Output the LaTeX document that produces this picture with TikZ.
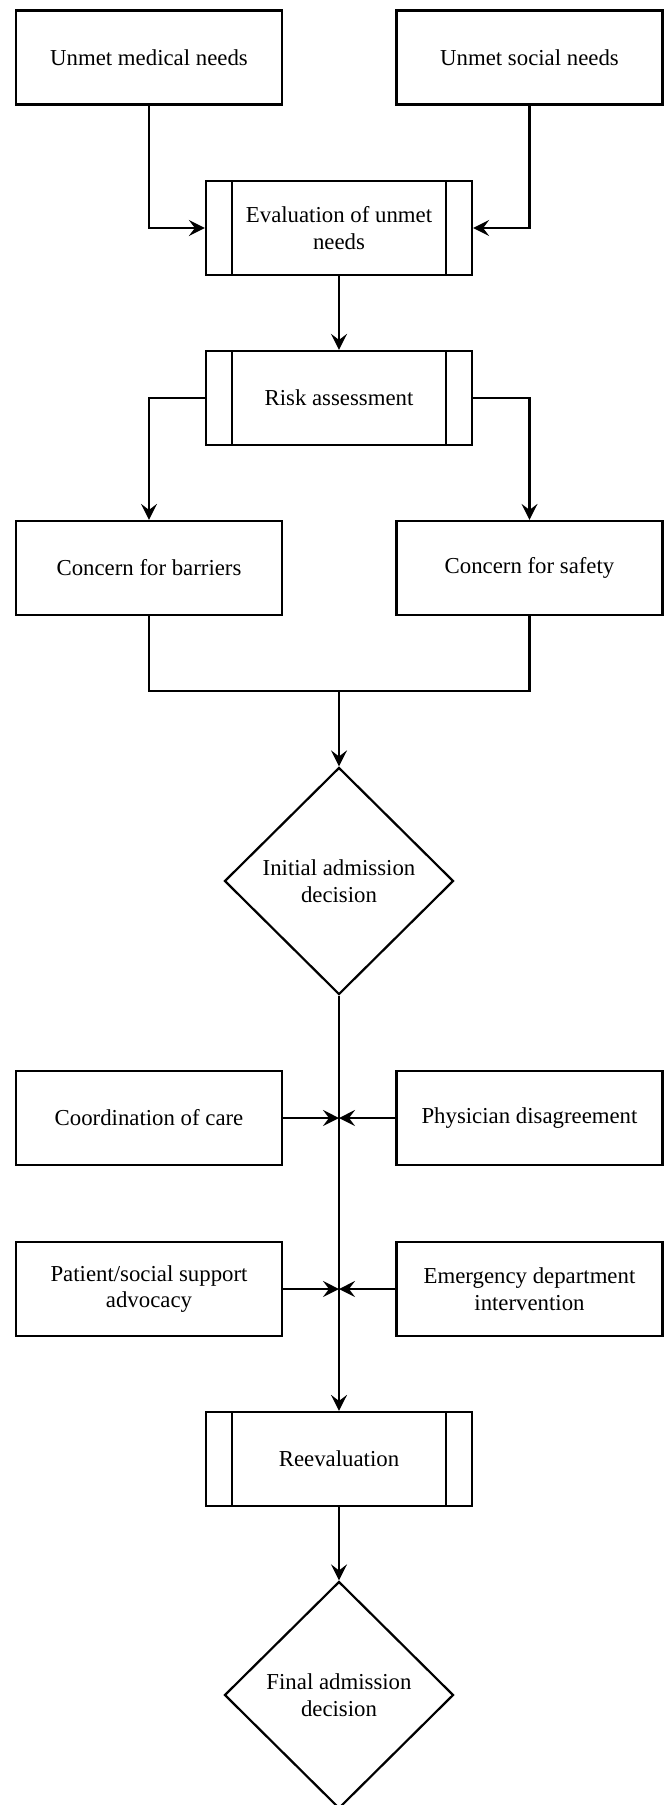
\documentclass[tikz,border=0pt]{standalone}
\usepackage{fontspec}
\setmainfont{Liberation Serif}
\usetikzlibrary{shapes.geometric,arrows.meta}
\begin{document}
\begin{tikzpicture}[x=0.5pt,y=-0.5pt,
  every node/.style={font=\fontsize{11.4}{13.3}\selectfont, align=center},
  box/.style={draw, line width=1.1pt, minimum width=133pt, minimum height=47pt, inner sep=0pt},
  process/.style={box, path picture={\draw[line width=1.1pt]
      ([xshift=13pt]path picture bounding box.north west) -- ([xshift=13pt]path picture bounding box.south west)
      ([xshift=-13pt]path picture bounding box.north east) -- ([xshift=-13pt]path picture bounding box.south east);}},
  decision/.style={draw, diamond, line width=1.1pt, minimum width=114.5pt, minimum height=113.5pt, inner sep=0pt},
  arr/.style={line width=1.1pt, -{Stealth[length=8pt,width=8pt,inset=3pt]}},
  ln/.style={line width=1.1pt}]
\useasboundingbox (0,0) rectangle (665,1805);
\node[box] (med) at (149,57.5) {Unmet medical needs};
\node[box] (soc) at (529.5,57.5) {Unmet social needs};
\node[process] (eval) at (339,228) {Evaluation of unmet\\needs};
\node[process] (risk) at (339,398) {Risk assessment};
\node[box] (bar) at (149,568) {Concern for barriers};
\node[box] (saf) at (529.5,568) {Concern for safety};
\coordinate (merge) at (339,691);
\node[decision] (init) at (339,881) {Initial admission\\decision};
\node[box] (coord) at (149,1118) {Coordination of care};
\node[box] (phys) at (529.5,1118) {Physician disagreement};
\node[box] (pat) at (149,1289) {Patient/social support\\advocacy};
\node[box] (emer) at (529.5,1289) {Emergency department\\intervention};
\node[process] (reev) at (339,1459) {Reevaluation};
\node[decision] (final) at (339,1695) {Final admission\\decision};
\coordinate (j1) at (339,1118);
\coordinate (j2) at (339,1289);
\draw[arr] (med.south) |- (eval.west);
\draw[arr] (soc.south) |- (eval.east);
\draw[arr] (eval) -- (risk);
\draw[arr] (risk.west) -| (bar.north);
\draw[arr] (risk.east) -| (saf.north);
\draw[ln] (bar.south) |- (merge) -| (saf.south);
\draw[arr] (merge) -- (init.north);
\draw[arr] (init.south) -- (reev.north);
\draw[arr] (coord.east) -- (j1);
\draw[arr] (phys.west) -- (j1);
\draw[arr] (pat.east) -- (j2);
\draw[arr] (emer.west) -- (j2);
\draw[arr] (reev) -- (final);
\end{tikzpicture}
\end{document}
